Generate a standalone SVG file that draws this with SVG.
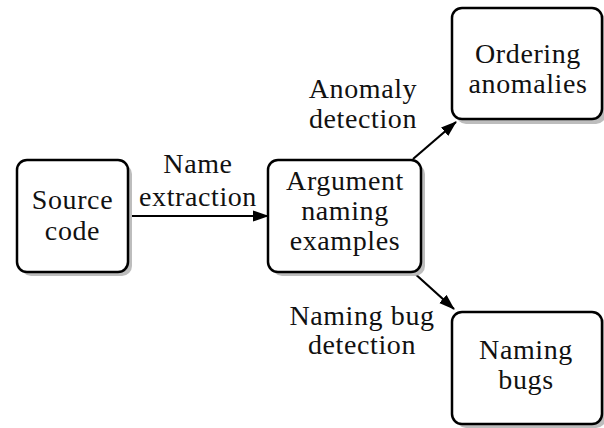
<svg xmlns="http://www.w3.org/2000/svg" width="604" height="428" viewBox="0 0 604 428">
<style>
.box{fill:#fff;stroke:#000;stroke-width:2.5}
.sh{fill:#bdbdbd}
text{font-family:"Liberation Serif","Times New Roman",serif;font-size:28px;fill:#111;text-anchor:middle;letter-spacing:0.6px}
.edge{stroke:#000;stroke-width:2.2;fill:none;marker-end:url(#ah)}
</style>
<defs>
<marker id="ah" markerWidth="16" markerHeight="12" refX="15" refY="6" orient="auto" markerUnits="userSpaceOnUse">
<path d="M0,0.5 L16,6 L0,11.5 Z" fill="#000"/>
</marker>
</defs>
<rect width="604" height="428" fill="#fff"/>
<g id="edges">
<line class="edge" x1="128" y1="216" x2="268" y2="216"/>
<line class="edge" x1="413" y1="159" x2="456" y2="122"/>
<line class="edge" x1="413" y1="272" x2="454" y2="309"/>
</g>
<g id="source">
<rect class="sh" x="21" y="164" width="111" height="112" rx="10"/>
<rect class="box" x="17" y="160" width="111" height="112" rx="10"/>
<text x="72.5" y="209">Source</text>
<text x="72.5" y="240">code</text>
</g>
<g id="argument">
<rect class="sh" x="272" y="164" width="153" height="112" rx="10"/>
<rect class="box" x="268" y="160" width="153" height="112" rx="10"/>
<text x="345" y="190">Argument</text>
<text x="345" y="220">naming</text>
<text x="345" y="250">examples</text>
</g>
<g id="ordering">
<rect class="sh" x="456" y="12" width="150" height="112" rx="10"/>
<rect class="box" x="452" y="8" width="150" height="111" rx="10"/>
<text x="528" y="63">Ordering</text>
<text x="528" y="93">anomalies</text>
</g>
<g id="bugs">
<rect class="sh" x="456" y="316" width="150" height="112" rx="10"/>
<rect class="box" x="452" y="312" width="150" height="112" rx="10"/>
<text x="526" y="359">Naming</text>
<text x="526" y="389">bugs</text>
</g>
<g id="labels">
<text x="198" y="173">Name</text>
<text x="198" y="206">extraction</text>
<text x="363" y="98">Anomaly</text>
<text x="363" y="128">detection</text>
<text x="362" y="325">Naming bug</text>
<text x="362" y="354">detection</text>
</g>
</svg>
